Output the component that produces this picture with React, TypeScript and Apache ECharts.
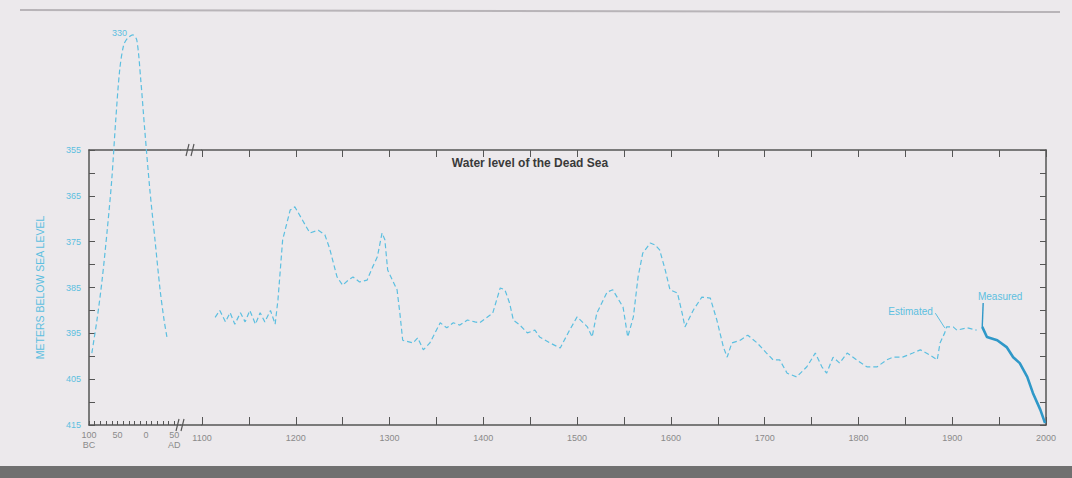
import React, { useEffect, useRef } from "react";
import * as echarts from "echarts";

// Left (antiquity) segment: years (negative = BC) and metres below sea level
const antiqYears = [-95, -86, -77, -68, -60, -53, -46, -39, -32, -23, -16, -9, -2, 7, 16, 25, 32, 37];
const antiqLevels = [399.3, 392.1, 383.4, 372.5, 361.5, 348.5, 337.5, 332.1, 330.6, 329.9, 331, 339.7, 350.6, 363.7, 374.6, 385.5, 392.1, 395.8];

// Estimated levels 1100–1930
const estYears = [
  1114, 1119, 1125, 1130, 1135, 1141, 1146, 1151, 1157, 1162, 1167, 1173, 1178, 1181, 1186, 1194, 1199,
  1215, 1224, 1231, 1236, 1244, 1250, 1256, 1261, 1268, 1276, 1282, 1287, 1292, 1295, 1298, 1308, 1311,
  1314, 1325, 1330, 1336, 1343, 1354, 1361, 1368, 1375, 1383, 1391, 1396, 1410, 1418, 1423, 1428, 1432,
  1439, 1447, 1455, 1460, 1471, 1482, 1492, 1500, 1511, 1516, 1521, 1532, 1538, 1549, 1554, 1560, 1565,
  1570, 1578, 1583, 1588, 1594, 1599, 1607, 1612, 1615, 1624, 1633, 1642, 1649, 1656, 1660, 1665, 1674,
  1682, 1692, 1702, 1709, 1716, 1724, 1734, 1745, 1754, 1761, 1766, 1773, 1780, 1788, 1798, 1809, 1820,
  1830, 1837, 1847, 1858, 1866, 1876, 1884, 1887, 1892, 1894, 1901, 1905, 1916, 1926,
];
const estLevels = [
  391.5, 390, 392.5, 390.5, 393, 390.5, 392.5, 390, 393, 390.5, 392.5, 390, 393, 387.7, 374.6, 368.1, 367.4,
  373.1, 372.5, 373.5, 376.4, 382.7, 384.5, 383.4, 382.7, 383.8, 383.4, 380.5, 378.3, 373.1, 374.6, 381.2, 385.5, 390.6,
  396.5, 397.1, 396, 398.6, 397.1, 392.7, 393.8, 392.7, 393.2, 392.1, 392.5, 392.7, 390.6, 385.1, 385.5, 388.4, 392.1,
  393.2, 394.9, 394.3, 395.8, 397.1, 398.2, 394.3, 391.4, 393.6, 395.8, 390.6, 386, 385.5, 389.3, 395.8, 391.4, 382.7,
  377.5, 375.3, 375.7, 376.8, 381.2, 385.5, 386.2, 390.6, 393.6, 389.9, 387.1, 387.3, 392.1, 398, 400.2, 397.1, 396.5,
  395.4, 397.1, 399.3, 400.8, 400.8, 403.7, 404.5, 402.3, 399.3, 402.3, 403.7, 400.2, 401.5, 399.3, 400.8, 402.3, 402.3,
  400.8, 400.2, 400.2, 399.3, 398.6, 399.7, 400.8, 397.1, 394.9, 393.6, 393.6, 394.3, 393.8, 394.3,
];

// Measured levels 1930–2000
const measYears = [1932, 1937, 1948, 1958, 1965, 1972, 1980, 1986, 1994, 1999];
const measLevels = [393.6, 395.8, 396.5, 398, 400.2, 401.5, 404.5, 408, 411.7, 414.6];

const antiqTicks: Record<number, string> = { [-100]: "100\nBC", [-50]: "50", [0]: "0", [50]: "50\nAD" };
const centuryLabels = [1100, 1200, 1300, 1400, 1500, 1600, 1700, 1800, 1900, 2000];
const levelLabels = [355, 365, 375, 385, 395, 405, 415];

const CYAN = "#5cbfe0";
const CYAN_DARK = "#2f98c8";
const FRAME = "#555";
const FONT = "Liberation Sans Narrow, Arial";

export default function App() {
  const ref = useRef<HTMLDivElement>(null);
  useEffect(() => {
    document.body.style.margin = "0";
    const chart = echarts.init(ref.current!, undefined, { renderer: "svg" });
    const pair = (xs: number[], ys: number[]) => xs.map((x, i) => [x, ys[i]]);
    const frameLine = { show: true, onZero: false, lineStyle: { color: FRAME, width: 1.5 } };
    const xLabelStyle = { color: "#8a8a8a", fontSize: 9, fontFamily: FONT, lineHeight: 10 };
    chart.setOption({
      animation: false,
      backgroundColor: "#ece9ec",
      title: {
        text: "Water level of the Dead Sea",
        left: 525,
        top: 152,
        textAlign: "center",
        textStyle: { fontSize: 12, fontWeight: "bold", color: "#3a3a3a", fontFamily: FONT },
      },
      grid: [
        { left: 89, top: 150, width: 91, height: 275, containLabel: false },
        { left: 202, top: 150, width: 844, height: 275, containLabel: false },
      ],
      xAxis: [
        {
          gridIndex: 0, type: "value", min: -100, max: 60, interval: 10, position: "bottom",
          axisLine: frameLine, splitLine: { show: false },
          axisTick: { inside: true, length: 4, lineStyle: { color: FRAME } },
          axisLabel: { ...xLabelStyle, margin: 5, showMaxLabel: false, formatter: (v: number) => antiqTicks[v] ?? "" },
        },
        {
          gridIndex: 0, type: "value", min: -100, max: 60, interval: 10, position: "top",
          axisLine: frameLine, splitLine: { show: false }, axisTick: { show: false }, axisLabel: { show: false },
        },
        {
          gridIndex: 1, type: "value", min: 1100, max: 2000, interval: 50, position: "bottom",
          axisLine: frameLine, splitLine: { show: false },
          axisTick: { inside: true, length: 8, lineStyle: { color: FRAME } },
          axisLabel: { ...xLabelStyle, margin: 8, formatter: (v: number) => (centuryLabels.includes(v) ? String(v) : "") },
        },
        {
          gridIndex: 1, type: "value", min: 1100, max: 2000, interval: 50, position: "top",
          axisLine: frameLine, splitLine: { show: false },
          axisTick: { inside: true, length: 7, lineStyle: { color: FRAME } },
          axisLabel: { show: false },
        },
      ],
      yAxis: [
        {
          gridIndex: 0, type: "value", inverse: true, min: 355, max: 415, interval: 5, position: "left",
          axisLine: frameLine, splitLine: { show: false },
          axisTick: { inside: true, length: 6, lineStyle: { color: FRAME } },
          axisLabel: {
            color: CYAN, fontSize: 9, margin: 8, fontFamily: FONT,
            formatter: (v: number) => (levelLabels.includes(v) ? String(v) : ""),
          },
          name: "METERS BELOW SEA LEVEL",
          nameLocation: "middle",
          nameRotate: 90,
          nameGap: 44,
          nameTextStyle: { color: CYAN, fontSize: 10.5, fontFamily: FONT },
        },
        {
          gridIndex: 1, type: "value", inverse: true, min: 355, max: 415, interval: 5, position: "right",
          axisLine: frameLine, splitLine: { show: false },
          axisTick: { inside: true, length: 6, lineStyle: { color: FRAME } },
          axisLabel: { show: false },
        },
      ],
      series: [
        {
          type: "line", xAxisIndex: 0, yAxisIndex: 0, clip: false, showSymbol: false, smooth: 0.3,
          data: pair(antiqYears, antiqLevels),
          lineStyle: { color: CYAN, width: 1.2, type: [5, 3] },
        },
        {
          type: "line", xAxisIndex: 2, yAxisIndex: 1, showSymbol: false,
          data: pair(estYears, estLevels),
          lineStyle: { color: CYAN, width: 1.2, type: [5, 3] },
          markPoint: {
            symbol: "circle", symbolSize: 1, itemStyle: { color: "rgba(0,0,0,0)" },
            label: { show: true, position: "left", distance: 2, color: CYAN, fontSize: 10, fontFamily: FONT, formatter: "Estimated" },
            data: [{ coord: [1882, 390.2] }],
          },
          markLine: {
            symbol: "none", silent: true, label: { show: false },
            lineStyle: { color: CYAN, width: 1, type: "solid" },
            data: [[{ coord: [1882, 390.6] }, { coord: [1892, 393.8] }]],
          },
        },
        {
          type: "line", xAxisIndex: 2, yAxisIndex: 1, showSymbol: false,
          data: pair(measYears, measLevels),
          lineStyle: { color: CYAN_DARK, width: 2.6 },
          markPoint: {
            symbol: "circle", symbolSize: 1, itemStyle: { color: "rgba(0,0,0,0)" },
            label: { show: true, position: "top", distance: 1, offset: [17, 0], color: CYAN, fontSize: 10, fontFamily: FONT, formatter: "Measured" },
            data: [{ coord: [1933, 388.4] }],
          },
          markLine: {
            symbol: "none", silent: true, label: { show: false },
            lineStyle: { color: CYAN_DARK, width: 1.4, type: "solid" },
            data: [[{ coord: [1933, 388.4] }, { coord: [1932, 393.6] }]],
          },
        },
      ],
      graphic: [
        { type: "text", x: 112, y: 28, style: { text: "330", fill: CYAN, font: `9px ${FONT}` } },
        { type: "line", shape: { x1: 180, y1: 150, x2: 202, y2: 150 }, style: { stroke: FRAME, lineWidth: 1.5 } },
        { type: "line", shape: { x1: 180, y1: 425, x2: 202, y2: 425 }, style: { stroke: FRAME, lineWidth: 1.5 } },
        { type: "line", shape: { x1: 186, y1: 156, x2: 189, y2: 144 }, style: { stroke: FRAME, lineWidth: 1.2 } },
        { type: "line", shape: { x1: 191, y1: 156, x2: 194, y2: 144 }, style: { stroke: FRAME, lineWidth: 1.2 } },
        { type: "line", shape: { x1: 176, y1: 431, x2: 179, y2: 419 }, style: { stroke: FRAME, lineWidth: 1.2 } },
        { type: "line", shape: { x1: 181, y1: 431, x2: 184, y2: 419 }, style: { stroke: FRAME, lineWidth: 1.2 } },
        { type: "line", shape: { x1: 20, y1: 10, x2: 1060, y2: 12 }, style: { stroke: "#b8b4b8", lineWidth: 2 } },
        { type: "rect", shape: { x: 0, y: 466, width: 1072, height: 12 }, style: { fill: "#707070" } },
      ],
    });
    return () => chart.dispose();
  }, []);
  return <div ref={ref} style={{ width: 1072, height: 478 }} />;
}
